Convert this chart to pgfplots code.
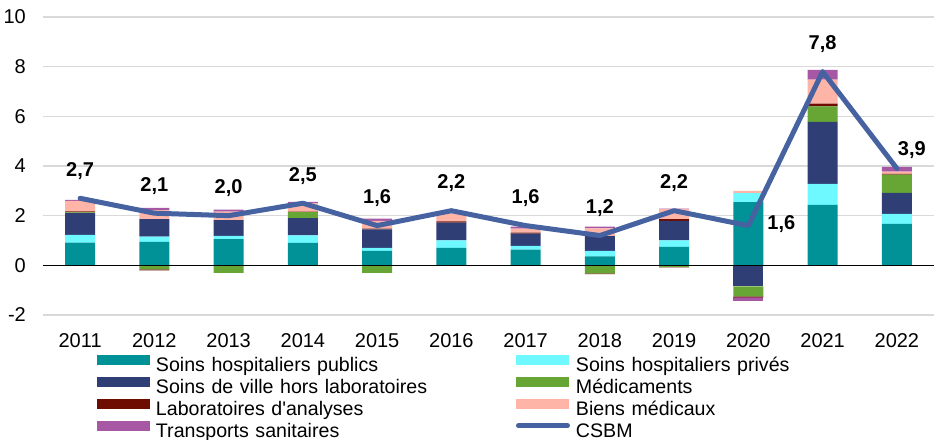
\documentclass[border=0pt]{standalone}
\usepackage{pgfplots}
\pgfplotsset{compat=1.18}
\usepackage{pgfplotstable}
\usepackage{fontspec}
\setmainfont{Liberation Sans}
\definecolor{cpub}{RGB}{0,146,150}
\definecolor{cpri}{RGB}{110,248,255}
\definecolor{cvil}{RGB}{47,62,117}
\definecolor{cmed}{RGB}{103,165,52}
\definecolor{clab}{RGB}{110,12,0}
\definecolor{cbie}{RGB}{255,180,168}
\definecolor{ctra}{RGB}{166,88,164}
\definecolor{csbm}{RGB}{70,98,160}
\definecolor{gridgray}{RGB}{217,217,217}
\pgfplotstableread{
x pub pri vil med lab bie tra
0 0.91 0.32 0.87 0.03 0.04 0.43 0.04
1 0.94 0.22 0.70 0.00 0.00 0.36 0.09
2 1.06 0.13 0.63 0.00 0.00 0.34 0.08
3 0.90 0.31 0.69 0.24 0.02 0.35 0.05
4 0.58 0.12 0.75 0.00 0.03 0.31 0.09
5 0.70 0.31 0.71 0.00 0.05 0.38 0.02
6 0.63 0.15 0.50 0.00 0.04 0.16 0.08
7 0.36 0.22 0.60 0.00 0.00 0.31 0.07
8 0.74 0.27 0.78 0.00 0.07 0.40 0.02
9 2.55 0.36 0.00 0.00 0.00 0.09 0.00
10 2.43 0.85 2.50 0.62 0.11 0.97 0.39
11 1.67 0.40 0.85 0.73 0.03 0.09 0.19
}\postab
\pgfplotstableread{
x pub pri vil med lab bie tra
0 0 0 0 0 0 0 0
1 0 0 0 -0.16 -0.04 0 0
2 0 0 0 -0.30 0 0 0
3 0 0 0 0 0 0 0
4 0 0 0 -0.30 0 0 0
5 0 0 0 0 0 0 0
6 0 0 0 0 0 0 0
7 0 0 0 -0.32 -0.03 0 0
8 0 0 0 -0.06 -0.02 0 0
9 0 0 -0.85 -0.40 -0.04 0 -0.15
10 0 0 0 0 0 0 0
11 0 0 0 0 0 0 0
}\negtab
\pgfplotstableread{
x y lab
0 2.7 2,7
1 2.1 2,1
2 2.0 2,0
3 2.5 2,5
4 1.6 1,6
5 2.2 2,2
6 1.6 1,6
7 1.2 1,2
8 2.2 2,2
9 1.6 1,6
10 7.8 7,8
11 3.9 3,9
}\csbmtab
\pgfplotstableread{
x y lab
0 2.7 2,7
1 2.1 2,1
2 2.0 2,0
3 2.5 2,5
4 1.6 1,6
5 2.2 2,2
6 1.6 1,6
7 1.2 1,2
8 2.2 2,2
10 7.8 7,8
}\labtab
\pgfplotstableread{
x y lab
9 1.6 1,6
}\labtabb
\pgfplotstableread{
x y lab
11 3.9 3,9
}\labtabc
\begin{document}
\begin{tikzpicture}
\path[use as bounding box] (-43bp,-125bp) rectangle (893bp,315bp);
\pgfplotsset{base/.style={width=891bp, height=298bp, scale only axis, at={(0,0)}, anchor=south west,
  xmin=-0.5, xmax=11.5, ymin=-2, ymax=10, clip=false}}
\begin{axis}[base, ybar stacked, bar width=30bp,
  axis line style={draw=none}, major tick length=0pt,
  ymajorgrids, major grid style={color=gridgray, line width=1.3bp},
  ytick={-2,0,2,4,6,8,10}, yticklabels={-2,0,2,4,6,8,10},
  xtick={0,...,11}, xticklabels={2011,2012,2013,2014,2015,2016,2017,2018,2019,2020,2021,2022},
  ticklabel style={font=\fontsize{20bp}{24bp}\selectfont, inner sep=0pt},
  xticklabel style={anchor=north, yshift=-18bp},
  yticklabel style={anchor=east, xshift=-17bp},
  legend columns=2,
  legend image code/.code={\fill[#1] (0bp,2bp) rectangle (53bp,12bp);},
  legend style={font=\fontsize{19.6bp}{23bp}\selectfont, draw=none, fill=none, inner sep=0pt, outer sep=0pt,
    at={(0.0606,-0.1335)}, anchor=north west,
    nodes={inner sep=0pt, text height=15bp, text depth=5bp, text width=300bp, align=left},
    /tikz/every odd column/.append style={column sep=6bp},
    /tikz/every even column/.append style={column sep=60bp},
    row sep=0bp},
  ]
\addplot[fill=cpub, draw=none] table[x=x, y=pub] {\postab};
\addlegendentry{Soins hospitaliers publics}
\addplot[fill=cpri, draw=none] table[x=x, y=pri] {\postab};
\addlegendentry{Soins hospitaliers privés}
\addplot[fill=cvil, draw=none] table[x=x, y=vil] {\postab};
\addlegendentry{Soins de ville hors laboratoires}
\addplot[fill=cmed, draw=none] table[x=x, y=med] {\postab};
\addlegendentry{Médicaments}
\addplot[fill=clab, draw=none] table[x=x, y=lab] {\postab};
\addlegendentry{Laboratoires d\textquotesingle analyses}
\addplot[fill=cbie, draw=none] table[x=x, y=bie] {\postab};
\addlegendentry{Biens médicaux}
\addplot[fill=ctra, draw=none] table[x=x, y=tra] {\postab};
\addlegendentry{Transports sanitaires}
\addlegendimage{legend image code/.code={\draw[csbm, line width=5bp, line cap=round] (2bp,7bp) -- (51bp,7bp);}}
\addlegendentry{CSBM}
\end{axis}
\begin{axis}[base, ybar stacked, bar width=30bp, hide axis]
\addplot[fill=cpub, draw=none] table[x=x, y=pub] {\negtab};
\addplot[fill=cpri, draw=none] table[x=x, y=pri] {\negtab};
\addplot[fill=cvil, draw=none] table[x=x, y=vil] {\negtab};
\addplot[fill=cmed, draw=none] table[x=x, y=med] {\negtab};
\addplot[fill=clab, draw=none] table[x=x, y=lab] {\negtab};
\addplot[fill=cbie, draw=none] table[x=x, y=bie] {\negtab};
\addplot[fill=ctra, draw=none] table[x=x, y=tra] {\negtab};
\end{axis}
\begin{axis}[base, hide axis]
\addplot[black, line width=1.3bp, forget plot] coordinates {(-0.5,0) (11.5,0)};
\addplot[csbm, line width=5bp, line join=round, line cap=round, mark=none] table[x=x, y=y] {\csbmtab};
\addplot[draw=none, mark=none, point meta=explicit symbolic,
  nodes near coords, nodes near coords style={anchor=base, yshift=22bp, inner sep=0pt,
  font=\fontsize{20bp}{24bp}\selectfont\bfseries}] table[x=x, y=y, meta=lab] {\labtab};
\addplot[draw=none, mark=none, point meta=explicit symbolic,
  nodes near coords, nodes near coords style={anchor=base, xshift=33bp, yshift=-4bp, inner sep=0pt,
  font=\fontsize{20bp}{24bp}\selectfont\bfseries}] table[x=x, y=y, meta=lab] {\labtabb};
\addplot[draw=none, mark=none, point meta=explicit symbolic,
  nodes near coords, nodes near coords style={anchor=base, xshift=15bp, yshift=13bp, inner sep=0pt,
  font=\fontsize{20bp}{24bp}\selectfont\bfseries}] table[x=x, y=y, meta=lab] {\labtabc};
\end{axis}
\end{tikzpicture}
\end{document}
